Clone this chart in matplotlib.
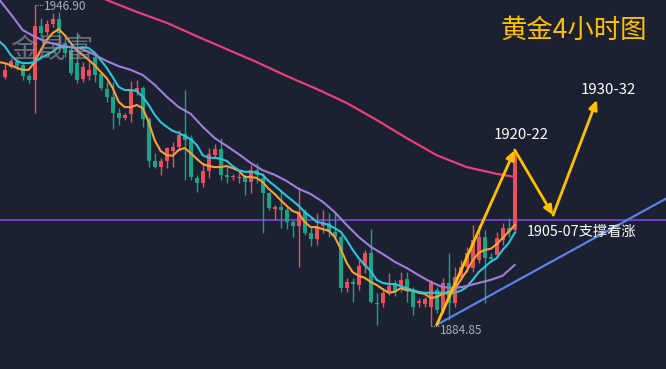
import numpy as np
import matplotlib
matplotlib.use("Agg")
import matplotlib.pyplot as plt

plt.rcParams['font.family'] = ['Noto Sans CJK SC', 'DejaVu Sans']

# ---- candle data (index 0..85) ----
opens = [1933.0, 1934.9, 1935.9, 1935.3, 1933.2, 1932.4, 1942.9, 1941.7, 1943.3, 1944.2,
         1939.6, 1938.2, 1935.7, 1932.6, 1933.2, 1936.9, 1933.6, 1930.7, 1929.2, 1926.1,
         1925.1, 1925.9, 1930.1, 1930.9, 1924.9, 1916.8, 1915.6, 1916.8, 1918.7, 1919.5,
         1922.0, 1921.2, 1913.5, 1912.5, 1914.8, 1917.9, 1919.1, 1914.1, 1913.7, 1913.5,
         1913.7, 1912.7, 1915.0, 1913.5, 1910.6, 1907.5, 1907.9, 1907.3, 1905.0, 1904.2,
         1906.9, 1902.9, 1901.7, 1904.2, 1904.8, 1903.1, 1902.1, 1892.2, 1893.4, 1892.8,
         1896.5, 1899.0, 1889.3, 1889.3, 1891.3, 1892.8, 1892.4, 1894.0, 1891.5, 1889.3,
         1889.1, 1888.6, 1891.8, 1888.0, 1893.2, 1889.3, 1894.4, 1896.3, 1896.1, 1897.6,
         1902.1, 1898.2, 1898.6, 1901.5, 1903.8, 1903.4]
highs = [1935.7, 1936.7, 1936.7, 1935.9, 1933.8, 1946.9, 1944.4, 1944.0, 1945.4, 1945.6,
         1940.7, 1939.6, 1941.7, 1935.9, 1935.9, 1937.3, 1934.0, 1932.1, 1932.1, 1927.0,
         1926.1, 1932.2, 1932.4, 1931.3, 1925.3, 1918.3, 1917.4, 1919.5, 1920.5, 1922.8,
         1930.5, 1921.8, 1914.1, 1916.4, 1919.3, 1920.1, 1921.2, 1915.6, 1914.3, 1914.5,
         1914.1, 1916.0, 1916.4, 1914.5, 1910.8, 1908.3, 1911.2, 1907.9, 1905.4, 1911.8,
         1907.5, 1904.0, 1906.7, 1907.3, 1906.7, 1906.7, 1902.5, 1894.2, 1894.2, 1897.6,
         1899.6, 1903.6, 1891.3, 1892.2, 1895.1, 1893.8, 1895.3, 1895.3, 1892.4, 1890.3,
         1890.5, 1893.8, 1892.4, 1894.2, 1899.0, 1896.3, 1897.6, 1900.1, 1904.4, 1904.4,
         1903.4, 1899.0, 1903.1, 1904.8, 1905.8, 1918.9]
lows = [1932.6, 1934.8, 1934.4, 1932.4, 1931.9, 1926.1, 1940.7, 1941.1, 1942.7, 1938.2,
        1936.9, 1933.4, 1931.9, 1932.1, 1932.4, 1932.1, 1930.5, 1928.2, 1923.0, 1923.7,
        1924.7, 1924.3, 1929.5, 1923.3, 1915.6, 1915.4, 1914.1, 1915.4, 1915.6, 1918.9,
        1913.1, 1913.1, 1910.8, 1911.7, 1913.5, 1917.4, 1913.1, 1912.5, 1913.1, 1912.5,
        1910.2, 1910.6, 1912.5, 1902.9, 1907.3, 1905.4, 1903.8, 1903.6, 1902.1, 1896.3,
        1902.5, 1900.3, 1900.5, 1902.9, 1902.1, 1901.9, 1891.5, 1891.5, 1889.5, 1891.8,
        1895.1, 1889.3, 1885.1, 1888.6, 1890.9, 1890.7, 1891.5, 1889.5, 1887.0, 1888.6,
        1888.6, 1884.85, 1887.4, 1887.4, 1886.0, 1888.6, 1893.8, 1895.3, 1895.3, 1897.1,
        1889.3, 1897.3, 1898.0, 1900.5, 1902.1, 1902.9]
closes = [1934.4, 1936.1, 1935.1, 1933.2, 1932.4, 1942.9, 1941.5, 1943.3, 1944.2, 1941.5,
          1937.7, 1933.8, 1932.4, 1934.9, 1934.4, 1933.4, 1930.9, 1929.2, 1926.1, 1925.1,
          1925.7, 1930.3, 1930.9, 1924.9, 1916.8, 1915.6, 1916.8, 1919.3, 1919.5, 1921.8,
          1920.8, 1913.7, 1912.5, 1914.8, 1918.1, 1919.1, 1914.1, 1913.7, 1913.9, 1913.7,
          1912.7, 1915.0, 1914.1, 1910.6, 1907.7, 1907.9, 1907.3, 1905.0, 1904.2, 1906.9,
          1902.9, 1901.7, 1904.0, 1904.8, 1903.1, 1902.1, 1892.2, 1893.4, 1893.0, 1896.5,
          1899.0, 1889.5, 1889.1, 1891.3, 1892.6, 1891.5, 1893.8, 1891.6, 1888.6, 1889.7,
          1890.1, 1893.2, 1888.0, 1893.2, 1889.3, 1894.4, 1896.3, 1899.0, 1901.5, 1902.1,
          1898.0, 1897.8, 1901.9, 1903.8, 1903.1, 1918.3]

# ---- moving averages ----
ma_fast = [1935.9, 1935.7, 1935.3, 1934.8, 1934.4, 1934.4, 1935.9, 1938.2, 1940.2, 1941.5,
           1942.3, 1941.1, 1939.6, 1938.2, 1937.3, 1936.3, 1935.3, 1934.0, 1932.8, 1930.9,
           1928.2, 1927.2, 1927.2, 1927.6, 1927.0, 1924.3, 1920.8, 1918.7, 1917.9, 1917.8,
           1918.9, 1919.3, 1918.3, 1917.2, 1916.2, 1915.8, 1915.6, 1915.6, 1915.8, 1915.4,
           1914.9, 1913.7, 1913.7, 1913.5, 1912.7, 1911.4, 1910.4, 1909.2, 1908.1, 1907.1,
           1906.7, 1905.0, 1904.0, 1904.0, 1903.6, 1903.3, 1902.1, 1899.8, 1897.1, 1895.3,
           1894.6, 1894.2, 1893.4, 1892.8, 1892.0, 1891.3, 1891.5, 1892.2, 1891.8, 1891.7,
           1891.3, 1891.1, 1890.3, 1890.5, 1891.1, 1891.5, 1892.0, 1893.8, 1895.5, 1897.6,
           1899.0, 1899.6, 1899.8, 1900.7, 1901.9, 1903.1, 1904.4]
ma_mid = [1940.0, 1939.0, 1937.3, 1936.1, 1935.7, 1935.7, 1935.9, 1936.7, 1937.3, 1937.9,
          1938.8, 1938.8, 1938.8, 1938.6, 1938.8, 1938.6, 1937.7, 1936.3, 1934.8, 1933.0,
          1931.1, 1930.5, 1930.5, 1930.3, 1929.2, 1927.6, 1925.7, 1924.3, 1923.4, 1922.6,
          1922.2, 1921.6, 1921.0, 1919.9, 1917.9, 1917.4, 1917.4, 1917.2, 1916.8, 1915.8,
          1915.0, 1914.7, 1914.7, 1914.5, 1914.1, 1912.9, 1912.0, 1911.0, 1910.0, 1909.1,
          1908.1, 1906.9, 1906.0, 1905.0, 1904.8, 1904.4, 1903.8, 1903.1, 1901.5, 1899.6,
          1898.0, 1896.7, 1895.5, 1893.8, 1893.2, 1893.0, 1893.0, 1892.6, 1892.2, 1891.8,
          1891.5, 1891.3, 1891.3, 1891.3, 1891.3, 1891.1, 1891.3, 1891.7, 1892.4, 1893.8,
          1895.3, 1896.3, 1897.3, 1898.0, 1899.6, 1900.9, 1902.9]
ma_slow = [1948.1, 1945.2, 1942.1, 1940.8, 1939.8, 1939.2, 1938.8, 1938.4, 1937.3, 1936.1,
           1935.1, 1934.4, 1933.4, 1931.5, 1929.2, 1927.2, 1925.9, 1923.4, 1921.2, 1919.7,
           1918.1, 1916.4, 1915.0, 1914.1, 1912.9, 1911.4, 1910.4, 1908.9, 1906.9, 1904.4,
           1902.1, 1900.2, 1898.8, 1897.3, 1896.1, 1894.7, 1893.4, 1892.4, 1892.2, 1892.6,
           1893.2, 1893.8, 1894.6, 1896.7]
ma_long_idx = [15, 17, 22, 27, 32, 37, 42, 47, 52, 57, 62, 67, 72, 77, 82, 85]
ma_long = [1949.1, 1947.9, 1945.6, 1943.5, 1940.9, 1938.4, 1935.9, 1933.2, 1930.7, 1928.0,
           1924.7, 1921.2, 1917.9, 1915.6, 1914.3, 1913.7]

# ---- annotations ----
support_level = 1905.4
trend_x = [72.0, 111.0]
trend_y = [1885.1, 1910.0]
path_x = [72.0, 85.0, 91.4, 98.7]
path_y = [1885.1, 1918.9, 1906.3, 1928.6]
high_idx, high_val, high_label = 5, 1946.9, "1946.90"
low_idx, low_val, low_label = 71, 1884.85, "1884.85"

# ---- colours ----
BG = '#1b2130'
UP = '#e8505b'
DOWN = '#19a487'
GOLD = '#ffc000'

fig = plt.figure(figsize=(6.66, 3.69), dpi=100)
fig.patch.set_facecolor(BG)
ax = fig.add_axes([0, 0, 1, 1])
ax.set_facecolor(BG)
ax.set_xlim(-0.78, 110.22)
ax.set_ylim(1876.57, 1947.9)
ax.axis('off')

n = len(opens)
idx = np.arange(n)
o = np.array(opens); c = np.array(closes); h = np.array(highs); l = np.array(lows)
up = c >= o
cols = np.where(up, UP, DOWN)
ax.vlines(idx, l, h, colors=cols, linewidth=1.0, zorder=3)
bottom = np.minimum(o, c)
height = np.maximum(np.abs(c - o), 0.25)
ax.bar(idx, height, bottom=bottom, width=0.68, color=cols, linewidth=0, zorder=4)

# moving averages
ax.plot(np.arange(-1, -1 + len(ma_fast)), ma_fast, color='#f6a139', lw=1.5, zorder=5)
ax.plot(np.arange(-1, -1 + len(ma_mid)), ma_mid, color='#2cc6dc', lw=1.5, zorder=5)
ax.plot(np.arange(-1, -1 + 2 * len(ma_slow), 2), ma_slow, color='#a27de0', lw=1.5, zorder=5)
ax.plot(ma_long_idx, ma_long, color='#e83f7c', lw=1.6, zorder=5)

# support level & trendline
ax.axhline(support_level, color='#7b3fd4', lw=1.3, zorder=2)
ax.plot(trend_x, trend_y, color='#5b82ea', lw=1.6, zorder=6)

# projected path arrows
for k in range(len(path_x) - 1):
    ax.annotate('', xy=(path_x[k + 1], path_y[k + 1]), xytext=(path_x[k], path_y[k]),
                arrowprops=dict(arrowstyle='-|>,head_length=0.55,head_width=0.25',
                                color=GOLD, lw=2.0, shrinkA=0, shrinkB=0), zorder=7)

# extremes labels
ax.plot([high_idx + 0.1, high_idx + 1.4], [high_val, high_val], color='#a0a4ab', lw=0.8,
        linestyle=(0, (1, 1)), zorder=6)
ax.text(high_idx + 1.5, high_val - 0.3, high_label, color='#a9adb4', fontsize=8.5,
        ha='left', va='center', zorder=8)
ax.plot([low_idx, low_idx + 1.5], [low_val, low_val], color='#a0a4ab', lw=0.8,
        linestyle=(0, (1, 1)), zorder=6)
ax.text(low_idx + 1.55, low_val - 0.8, low_label, color='#a9adb4', fontsize=8.5,
        ha='left', va='center', zorder=8)

# text annotations
ax.text(86.0, 1921.8, "1920-22", color='white', fontsize=10.8, ha='center', va='center', zorder=8)
ax.text(100.6, 1930.5, "1930-32", color='white', fontsize=10.8, ha='center', va='center', zorder=8)
ax.text(87.05, 1903.0, "1905-07支撑看涨", color='white', fontsize=10.3, ha='left', va='center', zorder=8)
ax.text(0.861, 0.919, "黄金4小时图", color=GOLD, fontsize=19, ha='center', va='center',
        transform=ax.transAxes, zorder=8)
ax.text(0.078, 0.865, "金晟富", color='#9a9ea5', alpha=0.6, fontsize=20, ha='center',
        va='center', transform=ax.transAxes, zorder=9)

fig.savefig('out.png', dpi=100, facecolor=BG)
